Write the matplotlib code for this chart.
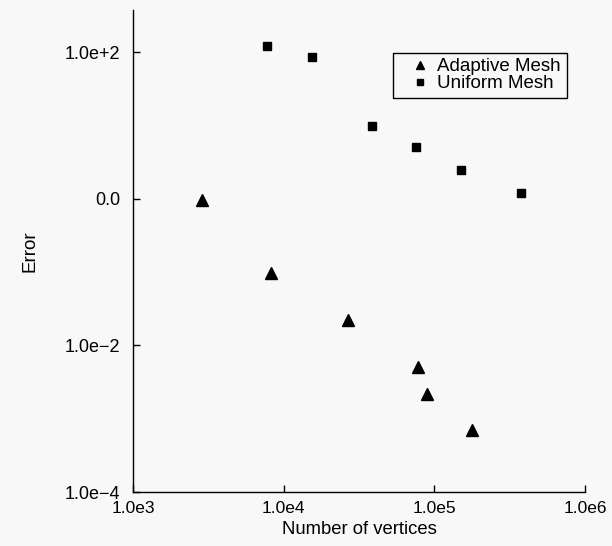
import matplotlib
matplotlib.use('Agg')
import matplotlib.pyplot as plt
from matplotlib.ticker import FixedLocator, FixedFormatter, NullLocator

# adaptive mesh: vertices vs error
adaptive_vertices = [2850, 8200, 26500, 77600, 89600, 177000]
adaptive_error = [0.96, 0.096, 0.022, 0.0051, 0.0022, 0.0007]

# uniform mesh
uniform_vertices = [7760, 15400, 38500, 75700, 149000, 373000]
uniform_error = [123, 87, 9.7, 5.05, 2.47, 1.21]

x_ticks = [1e3, 1e4, 1e5, 1e6]
x_tick_labels = ['1.0e3', '1.0e4', '1.0e5', '1.0e6']
y_ticks = [1e-4, 1e-2, 1e0, 1e2]
y_tick_labels = ['1.0e\u22124', '1.0e\u22122', '0.0', '1.0e+2']

plt.rcParams['font.family'] = ['Liberation Sans', 'DejaVu Sans']

bg = '#f8f8f8'
fig = plt.figure(figsize=(6.12, 5.46), dpi=100, facecolor=bg)
ax = fig.add_axes([0.2178, 0.0989, 0.7381, 0.8828], facecolor=bg)

ax.set_xscale('log')
ax.set_yscale('log')

ax.plot(adaptive_vertices, adaptive_error, linestyle='none', marker='^',
        ms=8, color='black', label='Adaptive Mesh')
ax.plot(uniform_vertices, uniform_error, linestyle='none', marker='s',
        ms=6.3, color='black', label='Uniform Mesh')

ax.set_xlim(1e3, 1e6)
ax.set_ylim(1e-4, 377)

ax.xaxis.set_major_locator(FixedLocator(x_ticks))
ax.xaxis.set_major_formatter(FixedFormatter(x_tick_labels))
ax.xaxis.set_minor_locator(NullLocator())
ax.yaxis.set_major_locator(FixedLocator(y_ticks))
ax.yaxis.set_major_formatter(FixedFormatter(y_tick_labels))
ax.yaxis.set_minor_locator(NullLocator())

ax.tick_params(axis='x', direction='in', length=5, width=1, pad=6.3, labelsize=12.5)
ax.tick_params(axis='y', direction='in', length=5, width=1, pad=9.6, labelsize=13)

for side in ('top', 'right'):
    ax.spines[side].set_visible(False)
for side in ('left', 'bottom'):
    ax.spines[side].set_linewidth(1.0)

ax.set_xlabel('Number of vertices', fontsize=13.3, labelpad=3.6)
ax.set_ylabel('Error', fontsize=13.5, labelpad=19)

leg = ax.legend(loc='upper left', bbox_to_anchor=(393.3 / 612, 1 - 52.5 / 546),
                bbox_transform=fig.transFigure, borderaxespad=0,
                fontsize=13.5, frameon=True, fancybox=False, shadow=False,
                handlelength=2.2, handletextpad=-0.15, borderpad=0.3,
                labelspacing=0.0, markerscale=0.75, numpoints=1)
frame = leg.get_frame()
frame.set_edgecolor('black')
frame.set_linewidth(1.0)
frame.set_facecolor(bg)
frame.set_alpha(1)

fig.savefig('out.png', dpi=100, facecolor=bg)
